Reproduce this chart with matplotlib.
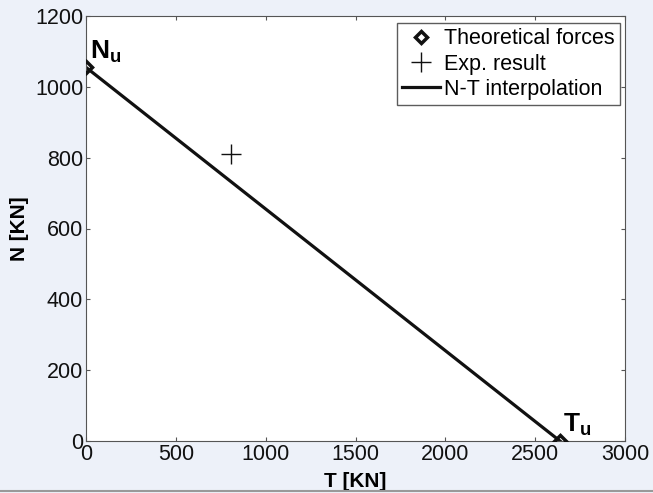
import matplotlib
matplotlib.use("Agg")
import matplotlib.pyplot as plt

plt.rcParams['font.family'] = ['Liberation Sans', 'DejaVu Sans']
plt.rcParams['mathtext.fontset'] = 'custom'
plt.rcParams['mathtext.bf'] = 'Liberation Sans:bold'
plt.rcParams['mathtext.rm'] = 'Liberation Sans'

theo_T = [0, 2638]
theo_N = [1055, 0]
exp_T = [805]
exp_N = [810]
interp_T = [0, 2638]
interp_N = [1055, 0]
xticks = [0, 500, 1000, 1500, 2000, 2500, 3000]
yticks = [0, 200, 400, 600, 800, 1000, 1200]

fig = plt.figure(figsize=(6.53, 4.93), dpi=100, facecolor='#EDF1F9')
ax = fig.add_axes([86/653, 1-441/493, (625-86)/653, (441-16)/493])
ax.set_facecolor('white')

ax.plot(interp_T, interp_N, color='#111111', lw=2.3, label='N-T interpolation', zorder=2)
ax.plot(theo_T, theo_N, linestyle='none', marker='D', ms=6.5, mfc='none', mec='#111111',
        mew=2.5, label='Theoretical forces', zorder=3)
ax.plot(exp_T, exp_N, linestyle='none', marker='+', ms=15, mew=1.0, color='#111111',
        label='Exp. result', zorder=3)

ax.set_xlim(0, 3000)
ax.set_ylim(0, 1200)
ax.set_xticks(xticks)
ax.set_yticks(yticks)
ax.tick_params(direction='in', length=3, labelsize=15.5, top=True, right=True, colors='#555555',
               labelcolor='#111111', pad=2)
for s in ax.spines.values():
    s.set_color('#555555')
ax.set_xlabel('T [KN]', fontsize=15, fontweight='bold', labelpad=5)
ax.set_ylabel('N [KN]', fontsize=15, fontweight='bold', labelpad=4)

ax.text(22, 1062, r'$\mathbf{N_u}$', fontsize=19, ha='left', va='bottom')
ax.text(2655, 8, r'$\mathbf{T_u}$', fontsize=19, ha='left', va='bottom')

h, l = ax.get_legend_handles_labels()
order = [1, 2, 0]
leg = ax.legend([h[i] for i in order], [l[i] for i in order], loc='upper right',
                bbox_to_anchor=(1 - 5/539, 1 - 7/425),
                fontsize=15.5, frameon=True, fancybox=False, edgecolor='#333333',
                borderaxespad=0.0, handlelength=1.75, handletextpad=0.2,
                labelspacing=0.2, borderpad=0.25)
leg.get_frame().set_linewidth(1.0)

fig.add_artist(plt.Line2D([0, 1], [2/493, 2/493], color='#999999', lw=1.5,
                          transform=fig.transFigure))

fig.savefig('out.png', dpi=100, facecolor=fig.get_facecolor())
